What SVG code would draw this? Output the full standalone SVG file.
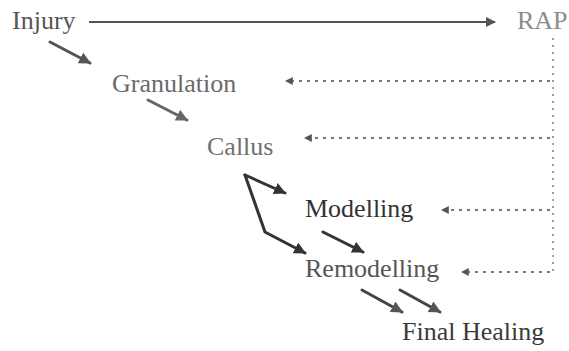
<svg xmlns="http://www.w3.org/2000/svg" width="569" height="351" viewBox="0 0 569 351">
  <defs>
    <style>
      .lbl { font-family: "Liberation Serif", "Times New Roman", serif; font-size: 26px; }
      .flow { fill: none; stroke-width: 3; stroke-linecap: round; stroke-linejoin: miter; }
      .rap { fill: none; stroke: #7a7a7a; stroke-width: 2; stroke-dasharray: 3 5; }
      .rapv { fill: none; stroke: #9a9a9a; stroke-width: 2; stroke-dasharray: 2 5; }
    </style>
    <marker id="headDark" viewBox="0 0 10 10" refX="9" refY="5" markerWidth="4" markerHeight="4" orient="auto" markerUnits="strokeWidth">
      <path d="M0,0 L10,5 L0,10 Z" fill="#333"/>
    </marker>
    <marker id="headMid" viewBox="0 0 10 10" refX="9" refY="5" markerWidth="4" markerHeight="4" orient="auto" markerUnits="strokeWidth">
      <path d="M0,0 L10,5 L0,10 Z" fill="#555"/>
    </marker>
    <marker id="headLight" viewBox="0 0 10 10" refX="9" refY="5" markerWidth="4" markerHeight="4" orient="auto" markerUnits="strokeWidth">
      <path d="M0,0 L10,5 L0,10 Z" fill="#666"/>
    </marker>
    <marker id="headLong" viewBox="0 0 10 10" refX="9" refY="5" markerWidth="5" markerHeight="5" orient="auto" markerUnits="strokeWidth">
      <path d="M0,0 L10,5 L0,10 Z" fill="#555"/>
    </marker>
    <marker id="headRap" viewBox="0 0 10 10" refX="1" refY="5" markerWidth="4" markerHeight="4" orient="auto-start-reverse" markerUnits="strokeWidth">
      <path d="M0,0 L10,5 L0,10 Z" fill="#555"/>
    </marker>
  </defs>

  <g id="injury"><text class="lbl" x="12" y="29" fill="#555">Injury</text></g>
  <g id="rap"><text class="lbl" x="517" y="29" fill="#8c8c8c">RAP</text></g>
  <g id="granulation"><text class="lbl" x="112" y="92" fill="#6a6a6a">Granulation</text></g>
  <g id="callus"><text class="lbl" x="207" y="155" fill="#707070">Callus</text></g>
  <g id="modelling"><text class="lbl" x="305" y="217" fill="#333">Modelling</text></g>
  <g id="remodelling"><text class="lbl" x="305" y="277" fill="#555">Remodelling</text></g>
  <g id="final-healing"><text class="lbl" x="402" y="340" fill="#3a3a3a">Final Healing</text></g>

  <g id="connectors">
    <!-- Injury to RAP -->
    <line x1="89" y1="22" x2="495" y2="22" stroke="#555" stroke-width="2" marker-end="url(#headLong)"/>
    <!-- healing sequence -->
    <line class="flow" x1="50" y1="42" x2="90" y2="63" stroke="#555" marker-end="url(#headMid)"/>
    <line class="flow" x1="148" y1="100" x2="187" y2="120" stroke="#666" marker-end="url(#headLight)"/>
    <line class="flow" x1="245" y1="175" x2="285" y2="193" stroke="#333" marker-end="url(#headDark)"/>
    <polyline class="flow" points="245,175 265,232 305,253" stroke="#333" marker-end="url(#headDark)"/>
    <line class="flow" x1="323" y1="232" x2="363" y2="252" stroke="#333" marker-end="url(#headDark)"/>
    <line class="flow" x1="362" y1="290" x2="402" y2="312" stroke="#444" marker-end="url(#headMid)"/>
    <line class="flow" x1="400" y1="290" x2="440" y2="312" stroke="#444" marker-end="url(#headMid)"/>
    <!-- RAP feedback -->
    <line class="rapv" x1="553" y1="38" x2="553" y2="272"/>
    <line class="rap" x1="550" y1="81" x2="292" y2="81" marker-end="url(#headRap)"/>
    <line class="rap" x1="550" y1="138" x2="311" y2="138" marker-end="url(#headRap)"/>
    <line class="rap" x1="550" y1="210" x2="448" y2="210" marker-end="url(#headRap)"/>
    <line class="rap" x1="550" y1="272" x2="468" y2="272" marker-end="url(#headRap)"/>
  </g>
</svg>
